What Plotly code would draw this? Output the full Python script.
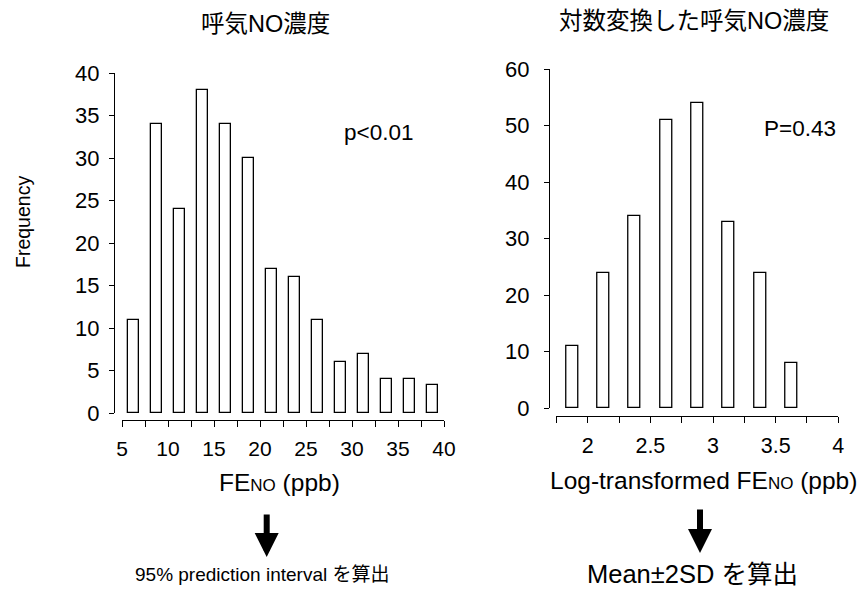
import plotly.graph_objects as go

W, H = 859, 590

# ---- data ----
feno_bins = [6.25, 8.75, 11.25, 13.75, 16.25, 18.75, 21.25, 23.75, 26.25, 28.75, 31.25, 33.75, 36.25, 38.75]
feno_counts = [11, 34, 24, 38, 34, 30, 17, 16, 11, 6, 7, 4, 4, 3.3]
feno_tickvals = [5, 7.5, 10, 12.5, 15, 17.5, 20, 22.5, 25, 27.5, 30, 32.5, 35, 37.5, 40]
feno_ticktext = ["5", "", "10", "", "15", "", "20", "", "25", "", "30", "", "35", "", "40"]

log_bins = [1.875, 2.125, 2.375, 2.625, 2.875, 3.125, 3.375, 3.625]
log_counts = [11, 24, 34, 51, 54, 33, 24, 8]
log_tickvals = [1.75, 2.0, 2.25, 2.5, 2.75, 3.0, 3.25, 3.5, 3.75, 4.0]
log_ticktext = ["", "2", "", "2.5", "", "3", "", "3.5", "", "4"]

FONT = "Liberation Sans, Arial, Noto Sans CJK JP, sans-serif"

def px(x):
    return x / W

def py(y):
    return 1 - y / H

bar_style = dict(color="white", line=dict(color="black", width=1.3))

fig = go.Figure()
fig.add_trace(go.Bar(x=feno_bins, y=feno_counts, width=1.1, marker=bar_style,
                     xaxis="x", yaxis="y", showlegend=False, hoverinfo="x+y"))
fig.add_trace(go.Bar(x=log_bins, y=log_counts, width=0.096, marker=bar_style,
                     xaxis="x2", yaxis="y2", showlegend=False, hoverinfo="x+y"))

axis_common = dict(showline=True, linecolor="black", linewidth=1, ticks="outside",
                   tickcolor="black", tickwidth=1, showgrid=False, zeroline=False,
                   automargin=False,
                   tickfont=dict(family=FONT, size=22, color="black"))

fig.update_layout(
    template="none",
    width=W, height=H,
    margin=dict(l=0, r=0, t=0, b=0, pad=0, autoexpand=False),
    paper_bgcolor="white", plot_bgcolor="rgba(0,0,0,0)",
    font=dict(family=FONT, color="black"),
    bargap=0,
    xaxis=dict(axis_common, domain=[px(122), px(444)], range=[5, 40], anchor="free",
               position=py(420), tickvals=feno_tickvals, ticktext=feno_ticktext,
               ticklen=6, ticklabelstandoff=4, tickfont=dict(family=FONT, size=21, color="black")),
    yaxis=dict(axis_common, domain=[py(413), py(73)], range=[0, 40], anchor="free",
               position=px(114), dtick=5, tick0=0, ticklen=5, ticklabelstandoff=5),
    xaxis2=dict(axis_common, domain=[px(556.4), px(838.3)], range=[1.75, 4], anchor="free",
                position=py(416), tickvals=log_tickvals, ticktext=log_ticktext,
                ticklen=6, ticklabelstandoff=4, tickfont=dict(family=FONT, size=21.5, color="black")),
    yaxis2=dict(axis_common, domain=[py(408.3), py(69)], range=[0, 60], anchor="free",
                position=px(549), dtick=10, tick0=0, ticklen=5, ticklabelstandoff=10),
)

def note(text, x, y, size=22, angle=0):
    fig.add_annotation(text=text, x=px(x), y=py(y), xref="paper", yref="paper",
                       showarrow=False, xanchor="center", yanchor="middle",
                       textangle=angle, font=dict(family=FONT, size=size, color="black"))

note("呼気NO濃度", 265, 24, size=23.5)
note("対数変換した呼気NO濃度", 694, 21, size=23.5)
note("p<0.01", 378, 132, size=22.5)
note("P=0.43", 800, 128, size=22.5)
note("Frequency", 23, 222, size=19.5, angle=-90)
note("FE<span style='font-size:17px'>NO</span> (ppb)", 279, 482, size=24.5)
note("Log-transformed FE<span style='font-size:17px'>NO</span> (ppb)", 703, 480, size=24.5)
note("95% prediction interval を算出", 262, 574, size=19)
note("Mean±2SD を算出", 692, 574, size=25.5)

for ax_x, tip_y, tail_y in [(266.7, 557, 513), (700, 553, 508)]:
    fig.add_annotation(text="", x=px(ax_x), y=py(tip_y), xref="paper", yref="paper",
                       showarrow=True, arrowhead=2, arrowsize=0.8, arrowwidth=6,
                       arrowcolor="black", ax=0, ay=tail_y - tip_y, axref="pixel", ayref="pixel")

fig.write_html("out.html",
               config={"displayModeBar": False, "staticPlot": False},
               post_script="document.body.style.margin='0';document.body.style.padding='0';"
                           "document.documentElement.style.overflow='hidden';")
